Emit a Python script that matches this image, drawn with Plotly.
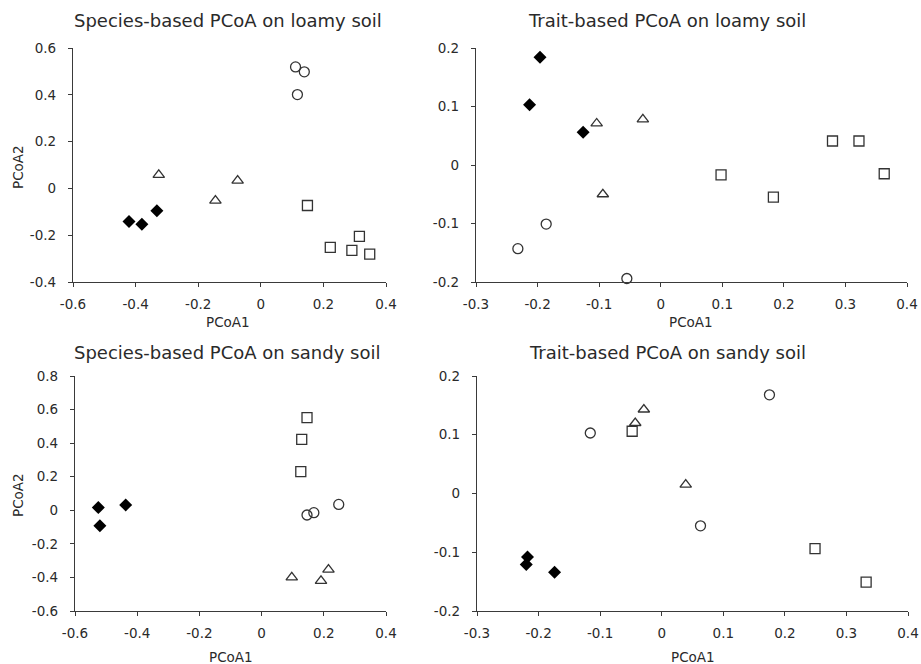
import plotly.graph_objects as go

# ---------- data ----------
# Species-based PCoA, loamy soil
sl_diam_x = [-0.421, -0.380, -0.332]
sl_diam_y = [-0.141, -0.153, -0.096]
sl_tri_x = [-0.326, -0.145, -0.074]
sl_tri_y = [0.058, -0.052, 0.033]
sl_circ_x = [0.111, 0.139, 0.117]
sl_circ_y = [0.519, 0.498, 0.401]
sl_sq_x = [0.149, 0.222, 0.291, 0.315, 0.348]
sl_sq_y = [-0.073, -0.252, -0.265, -0.205, -0.281]

# Trait-based PCoA, loamy soil
tl_diam_x = [-0.196, -0.213, -0.126]
tl_diam_y = [0.184, 0.103, 0.056]
tl_tri_x = [-0.104, -0.029, -0.094]
tl_tri_y = [0.071, 0.078, -0.050]
tl_circ_x = [-0.232, -0.186, -0.055]
tl_circ_y = [-0.143, -0.101, -0.194]
tl_sq_x = [0.098, 0.183, 0.279, 0.322, 0.363]
tl_sq_y = [-0.017, -0.055, 0.041, 0.041, -0.015]

# Species-based PCoA, sandy soil
ss_diam_x = [-0.525, -0.520, -0.437]
ss_diam_y = [0.016, -0.092, 0.032]
ss_sq_x = [0.146, 0.129, 0.126]
ss_sq_y = [0.552, 0.423, 0.230]
ss_circ_x = [0.146, 0.168, 0.248]
ss_circ_y = [-0.028, -0.014, 0.035]
ss_tri_x = [0.097, 0.191, 0.215]
ss_tri_y = [-0.400, -0.420, -0.353]

# Trait-based PCoA, sandy soil
ts_diam_x = [-0.218, -0.220, -0.174]
ts_diam_y = [-0.108, -0.121, -0.134]
ts_circ_x = [-0.116, 0.175, 0.063]
ts_circ_y = [0.103, 0.168, -0.055]
ts_tri_x = [-0.029, -0.043, 0.039]
ts_tri_y = [0.143, 0.120, 0.015]
ts_sq_x = [-0.048, 0.249, 0.332]
ts_sq_y = [0.106, -0.094, -0.151]

titles = ["Species-based PCoA on loamy soil", "Trait-based PCoA on loamy soil",
          "Species-based PCoA on sandy soil", "Trait-based PCoA on sandy soil"]

species_x_ticks = [-0.6, -0.4, -0.2, 0, 0.2, 0.4]
species_x_labels = ["-0.6", "-0.4", "-0.2", "0", "0.2", "0.4"]
trait_x_ticks = [-0.3, -0.2, -0.1, 0, 0.1, 0.2, 0.3, 0.4]
trait_x_labels = ["-0.3", "-0.2", "-0.1", "0", "0.1", "0.2", "0.3", "0.4"]
sl_y_ticks = [-0.4, -0.2, 0, 0.2, 0.4, 0.6]
sl_y_labels = ["-0.4", "-0.2", "0", "0.2", "0.4", "0.6"]
ss_y_ticks = [-0.6, -0.4, -0.2, 0, 0.2, 0.4, 0.6, 0.8]
ss_y_labels = ["-0.6", "-0.4", "-0.2", "0", "0.2", "0.4", "0.6", "0.8"]
trait_y_ticks = [-0.2, -0.1, 0, 0.1, 0.2]
trait_y_labels = ["-0.2", "-0.1", "0", "0.1", "0.2"]

# ---------- figure ----------
W, H = 921, 664
FONT = "DejaVu Sans"
TXT = "#2a2a2a"
AX = "#3a3a3a"

fig = go.Figure()

markers = {
    "diam": dict(symbol="diamond", size=10, color="black", line=dict(width=0)),
    "tri": dict(symbol="triangle-up-open", size=10, color="#333333", line=dict(width=1.3)),
    "circ": dict(symbol="circle-open", size=10, color="#333333", line=dict(width=1.3)),
    "sq": dict(symbol="square-open", size=10, color="#333333", line=dict(width=1.3)),
}

panels = [
    ("x", "y", [("diam", sl_diam_x, sl_diam_y), ("tri", sl_tri_x, sl_tri_y),
                ("circ", sl_circ_x, sl_circ_y), ("sq", sl_sq_x, sl_sq_y)]),
    ("x2", "y2", [("diam", tl_diam_x, tl_diam_y), ("tri", tl_tri_x, tl_tri_y),
                  ("circ", tl_circ_x, tl_circ_y), ("sq", tl_sq_x, tl_sq_y)]),
    ("x3", "y3", [("diam", ss_diam_x, ss_diam_y), ("sq", ss_sq_x, ss_sq_y),
                  ("circ", ss_circ_x, ss_circ_y), ("tri", ss_tri_x, ss_tri_y)]),
    ("x4", "y4", [("diam", ts_diam_x, ts_diam_y), ("circ", ts_circ_x, ts_circ_y),
                  ("tri", ts_tri_x, ts_tri_y), ("sq", ts_sq_x, ts_sq_y)]),
]
for xa, ya, series in panels:
    for kind, xs, ys in series:
        fig.add_trace(go.Scatter(x=xs, y=ys, mode="markers", marker=markers[kind],
                                 xaxis=xa, yaxis=ya, showlegend=False, hoverinfo="skip",
                                 cliponaxis=False))

def px_x(a, b):
    return [a / W, b / W]

def px_y(top, bottom):
    return [1 - bottom / H, 1 - top / H]

common = dict(showline=True, linecolor=AX, linewidth=1.3, ticks="outside", ticklen=4,
              tickcolor=AX, tickwidth=1.2, showgrid=False, zeroline=False, automargin=False,
              tickfont=dict(family=FONT, size=13.5, color=TXT))

def xaxis(dom, rng, tv, tt, anchor):
    return dict(common, domain=dom, range=rng, tickvals=tv, ticktext=tt, anchor=anchor,
                ticklabelstandoff=6)

def yaxis(dom, rng, tv, tt, anchor):
    return dict(common, domain=dom, range=rng, tickvals=tv, ticktext=tt, anchor=anchor,
                ticklabelstandoff=9)

top_dom = px_y(48, 282)
bot_dom = px_y(376, 611)

fig.update_layout(
    width=W, height=H, margin=dict(l=0, r=0, t=0, b=0, autoexpand=False),
    paper_bgcolor="white", plot_bgcolor="white",
    xaxis=xaxis(px_x(73, 386), [-0.6, 0.4], species_x_ticks, species_x_labels, "y"),
    yaxis=yaxis(top_dom, [-0.4, 0.6], sl_y_ticks, sl_y_labels, "x"),
    xaxis2=xaxis(px_x(476, 907), [-0.3, 0.4], trait_x_ticks, trait_x_labels, "y2"),
    yaxis2=yaxis(top_dom, [-0.2, 0.2], trait_y_ticks, trait_y_labels, "x2"),
    xaxis3=xaxis(px_x(75, 386), [-0.6, 0.4], species_x_ticks, species_x_labels, "y3"),
    yaxis3=yaxis(bot_dom, [-0.6, 0.8], ss_y_ticks, ss_y_labels, "x3"),
    xaxis4=xaxis(px_x(477, 908), [-0.3, 0.4], trait_x_ticks, trait_x_labels, "y4"),
    yaxis4=yaxis(bot_dom, [-0.2, 0.2], trait_y_ticks, trait_y_labels, "x4"),
)

def ann(text, x, y, size, angle=0):
    return dict(text=text, x=x / W, y=1 - y / H, xref="paper", yref="paper",
                showarrow=False, xanchor="center", yanchor="middle", textangle=angle,
                font=dict(family=FONT, size=size, color=TXT))

annotations = [
    ann(titles[0], 228, 20, 18),
    ann(titles[1], 667, 20, 18),
    ann(titles[2], 227, 353, 18),
    ann(titles[3], 667, 353, 18),
    ann("PCoA1", 228, 322, 13.5),
    ann("PCoA1", 691, 322, 13.5),
    ann("PCoA1", 231, 657, 13.5),
    ann("PCoA1", 693, 657, 13.5),
    ann("PCoA2", 18, 167, 13.5, -90),
    ann("PCoA2", 18, 495, 13.5, -90),
]
fig.update_layout(annotations=annotations)

fig.write_html("out.html", config={"displayModeBar": False},
               post_script="document.body.style.margin='0';document.body.style.overflow='hidden';")
